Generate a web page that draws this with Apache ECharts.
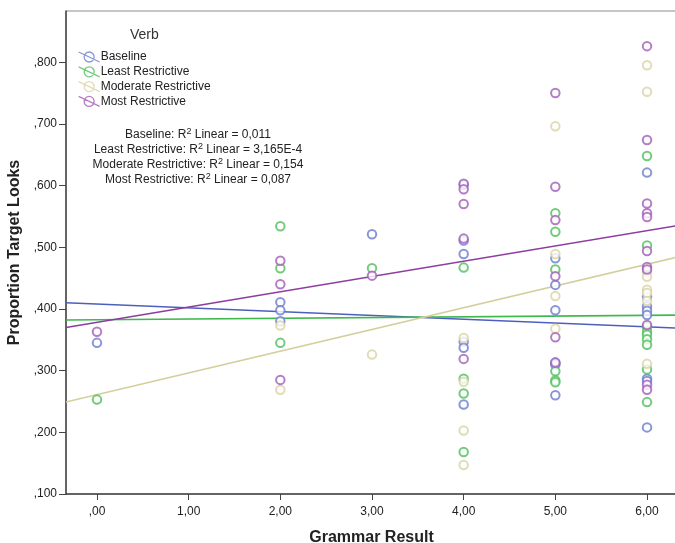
<!DOCTYPE html>
<html>
<head>
<meta charset="utf-8">
<script src="https://cdn.jsdelivr.net/npm/echarts@6/dist/echarts.min.js"></script>
<style>html,body{margin:0;padding:0;background:#fff;}#c{width:675px;height:543px;}</style>
</head>
<body>
<div id="c"></div>
<script>
// ---- data ----
const seriesNames = ['Baseline', 'Least Restrictive', 'Moderate Restrictive', 'Most Restrictive'];
const baseline = [
  [0,0.345],
  [2,0.411],[2,0.398],[2,0.380],
  [3,0.521],
  [4,0.601],[4,0.511],[4,0.489],[4,0.347],[4,0.337],[4,0.245],
  [5,0.482],[5,0.439],[5,0.398],[5,0.313],[5,0.310],[5,0.260],
  [6,0.621],[6,0.420],[6,0.404],[6,0.397],[6,0.390],[6,0.287],[6,0.283],[6,0.208]
];
const leastRestrictive = [
  [0,0.253],
  [2,0.534],[2,0.466],[2,0.345],
  [3,0.466],
  [4,0.467],[4,0.287],[4,0.263],[4,0.168],
  [5,0.555],[5,0.525],[5,0.464],[5,0.299],[5,0.284],[5,0.281],
  [6,0.648],[6,0.503],[6,0.371],[6,0.363],[6,0.358],[6,0.351],[6,0.342],[6,0.302],[6,0.249]
];
const moderateRestrictive = [
  [2,0.373],[2,0.269],
  [3,0.326],
  [4,0.353],[4,0.282],[4,0.203],[4,0.147],
  [5,0.696],[5,0.489],[5,0.421],[5,0.368],
  [6,0.795],[6,0.752],[6,0.460],[6,0.452],[6,0.431],[6,0.426],[6,0.413],[6,0.311]
];
const mostRestrictive = [
  [0,0.363],
  [2,0.478],[2,0.440],[2,0.285],
  [3,0.454],
  [4,0.603],[4,0.594],[4,0.570],[4,0.514],[4,0.319],
  [5,0.750],[5,0.598],[5,0.544],[5,0.453],[5,0.354],[5,0.313],
  [6,0.826],[6,0.674],[6,0.571],[6,0.555],[6,0.549],[6,0.494],[6,0.468],[6,0.464],[6,0.374],[6,0.277],[6,0.269]
];
// fit-line values at the left and right edges of the x range
const xRange = [-0.338, 6.327];
const fitBaseline = [0.410, 0.369];
const fitLeast = [0.382, 0.390];
const fitModerate = [0.249, 0.484];
const fitMost = [0.370, 0.535];
const r2Labels = [
  ['Baseline', '0,011'],
  ['Least Restrictive', '3,165E-4'],
  ['Moderate Restrictive', '0,154'],
  ['Most Restrictive', '0,087']
];
const yTicks = { min: 0.1, max: 0.883, interval: 0.1 };

// ---- styling ----
const pointColors = ['#6a7ccf', '#4cbf5a', '#d9d3a3', '#a25cb6'];
const lineColors = ['#4d5fbd', '#3fb84d', '#d5cf9e', '#8c3d9f'];
const font = '"Liberation Sans", Arial, sans-serif';
const pointSets = [baseline, leastRestrictive, moderateRestrictive, mostRestrictive];
const fitSets = [fitBaseline, fitLeast, fitModerate, fitMost];
const legendIcon = 'path://M0,1 L21,11 M15.5,6 A5,5 0 1 1 5.5,6 A5,5 0 1 1 15.5,6 Z';

const series = [];
pointSets.forEach((d, i) => {
  series.push({
    name: seriesNames[i], type: 'scatter', data: d,
    symbol: 'emptyCircle', symbolSize: 8.5,
    itemStyle: { color: pointColors[i], borderColor: pointColors[i], borderWidth: 1.4 },
    z: 3
  });
});
fitSets.forEach((f, i) => {
  series.push({
    name: seriesNames[i], type: 'line',
    data: [[xRange[0], f[0]], [xRange[1], f[1]]],
    showSymbol: false, silent: true,
    lineStyle: { color: lineColors[i], width: 1.6 },
    z: 2
  });
});

const chart = echarts.init(document.getElementById('c'), null, { renderer: 'canvas' });
chart.setOption({
  animation: false,
  backgroundColor: '#fff',
  grid: {
    left: 66, top: 11, right: -2, bottom: 49,
    outerBoundsMode: 'none', containLabel: false,
    show: true, borderColor: '#8c8c8c', borderWidth: 1, backgroundColor: '#fff'
  },
  legend: {
    orient: 'vertical', left: 73, top: 46,
    itemWidth: 21, itemHeight: 11, itemGap: 2.8,
    textStyle: { fontFamily: font, fontSize: 12, color: '#222', padding: [0, 0, 0, -4] },
    data: seriesNames.map((n, i) => ({
      name: n, icon: legendIcon,
      itemStyle: { color: 'transparent', borderColor: pointColors[i], borderWidth: 1.3 }
    }))
  },
  xAxis: {
    type: 'value', min: xRange[0], max: xRange[1],
    name: 'Grammar Result', nameLocation: 'middle', nameGap: 36,
    nameTextStyle: { fontFamily: font, fontSize: 16, fontWeight: 'bold', color: '#222' },
    splitLine: { show: false },
    axisLine: { onZero: false, lineStyle: { color: '#444', width: 1.5 } },
    axisTick: { length: 6, lineStyle: { color: '#444' } },
    axisLabel: {
      showMinLabel: false, showMaxLabel: false, margin: 12,
      fontFamily: font, fontSize: 12, color: '#222',
      formatter: v => v === 0 ? ',00' : v.toFixed(2).replace('.', ',')
    }
  },
  yAxis: {
    type: 'value', min: yTicks.min, max: yTicks.max, interval: yTicks.interval,
    name: 'Proportion Target Looks', nameLocation: 'middle', nameGap: 41,
    nameTextStyle: { fontFamily: font, fontSize: 16, fontWeight: 'bold', color: '#222' },
    splitLine: { show: false },
    axisLine: { onZero: false, lineStyle: { color: '#444', width: 1.5 } },
    axisTick: { length: 7, lineStyle: { color: '#444' } },
    axisLabel: {
      showMaxLabel: false, margin: 9,
      fontFamily: font, fontSize: 12, color: '#222',
      formatter: v => ',' + v.toFixed(3).split('.')[1]
    }
  },
  graphic: [
    { type: 'text', x: 130, y: 35, style: { text: 'Verb', fontFamily: font, fontSize: 14, fill: '#333', verticalAlign: 'middle' } }
  ].concat(r2Labels.map((r, i) => ({
    type: 'text', x: 198, y: 135 + i * 14.8,
    style: {
      text: r[0] + ': R{sup|2} Linear = ' + r[1],
      fontFamily: font, fontSize: 12, fill: '#222',
      align: 'center', verticalAlign: 'middle',
      rich: { sup: { fontSize: 9, verticalAlign: 'top', padding: [0, 0, 6, 0], fontFamily: font, fill: '#222' } }
    }
  }))),
  series: series
});
</script>
</body>
</html>
